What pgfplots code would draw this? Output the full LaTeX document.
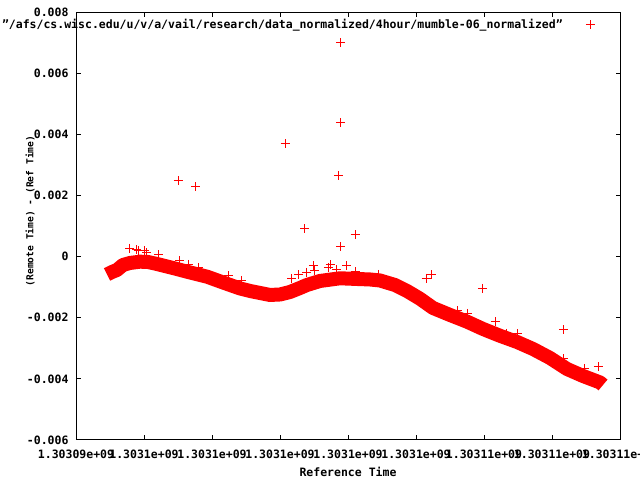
\documentclass[border=0pt]{standalone}
\usepackage{pgfplots}
\pgfplotsset{compat=1.18}
\usepackage{fontspec}
\setmainfont{DejaVu Sans Mono}
\newcommand{\gp}{\fontsize{11.5bp}{13bp}\selectfont\bfseries}
\begin{document}
\begin{tikzpicture}[font=\gp]
\useasboundingbox (0bp,0bp) rectangle (640bp,480bp);
\begin{axis}[
  at={(76bp,40bp)}, anchor=south west,
  width=544bp, height=428bp, scale only axis,
  xmin=0, xmax=16000, ymin=-0.006, ymax=0.008,
  xtick={0,2000,...,16000},
  xticklabels={1.30309e+09,1.3031e+09,1.3031e+09,1.3031e+09,1.3031e+09,1.3031e+09,1.30311e+09,1.30311e+09,1.30311e+09},
  ytick={-0.006,-0.004,-0.002,0,0.002,0.004,0.006,0.008},
  yticklabels={-0.006,-0.004,-0.002,0,0.002,0.004,0.006,0.008},
  scaled x ticks=false, scaled y ticks=false,
  /pgf/number format/assume math mode=true,
  tick align=inside, major tick length=4.5bp,
  tick style={black, line width=1bp},
  axis line style={black, line width=1bp},
  yticklabel style={xshift=-4bp},
  xticklabel style={yshift=-6bp},
  xlabel={Reference Time},
  ylabel={(Remote Time) - (Ref Time)},
  xlabel style={at={(0.5,0)}, anchor=center, yshift=-32bp},
  ylabel style={at={(0,0.5)}, anchor=center, xshift=15bp, yshift=46bp,
    font=\fontsize{9.6bp}{11bp}\selectfont\bfseries},
  legend plot pos=right,
  legend style={at={(1,1)}, anchor=north east, draw=none, fill=none, xshift=-22bp, yshift=-3bp, font=\gp},
  clip=false,
]
% dense band of points (drawn as the thick run of + marks)
\addplot[red, line width=14bp, line join=round, forget plot] coordinates {
(912,-0.000585) (1059,-0.000504) (1206,-0.000438) (1382,-0.000275) (1588,-0.000209)
(1882,-0.000167) (2118,-0.000177) (2382,-0.000242) (2853,-0.000373) (3353,-0.000520)
(3853,-0.000657) (4324,-0.000847) (4824,-0.001043) (5118,-0.001125) (5412,-0.001191)
(5706,-0.001256) (6000,-0.001240) (6294,-0.001158) (6588,-0.001027) (6794,-0.000929)
(7176,-0.000798) (7765,-0.000710) (8265,-0.000733) (8647,-0.000749) (8941,-0.000782)
(9382,-0.000930) (9529,-0.001011) (9735,-0.001125) (10118,-0.001380) (10500,-0.001681)
(11000,-0.001910) (11500,-0.002129) (11971,-0.002368) (12471,-0.002591) (12971,-0.002793)
(13441,-0.003022) (13941,-0.003317) (14441,-0.003677) (14912,-0.003906) (15412,-0.004118)
(15500,-0.004200)
};
% scattered points
\addplot[only marks, mark=+, mark size=4.5bp, red, line width=1bp] coordinates {
(3000,0.002473) (3529,0.002277) (6147,0.003683) (7794,0.006987) (7794,0.004370)
(7735,0.002636) (6735,0.000903) (8206,0.000707) (7794,0.000314) (11950,-0.001037)
(10294,-0.000710) (10462,-0.000602) (14332,-0.002401) (14332,-0.003350) (15362,-0.003611)
(14950,-0.003654) (12324,-0.002130) (12971,-0.002532) (12668,-0.002509) (11529,-0.001855)
(11235,-0.001770) (1588,0.000271) (1785,0.000216) (1824,0.000193) (2029,0.000193)
(2088,0.000128) (2421,0.000052) (3038,-0.000144) (3303,-0.000252) (3597,-0.000350)
(4479,-0.000625) (4874,-0.000782) (6344,-0.000710) (6538,-0.000602) (6785,-0.000514)
(6979,-0.000307) (7029,-0.000461) (7471,-0.000275) (7421,-0.000350) (7962,-0.000307)
(7668,-0.000438) (8206,-0.000494) (8891,-0.000579)
};
\addlegendentry{"/afs/cs.wisc.edu/u/v/a/vail/research/data\_normalized/4hour/mumble-06\_normalized"\kern21bp}
\end{axis}
\end{tikzpicture}
\end{document}
